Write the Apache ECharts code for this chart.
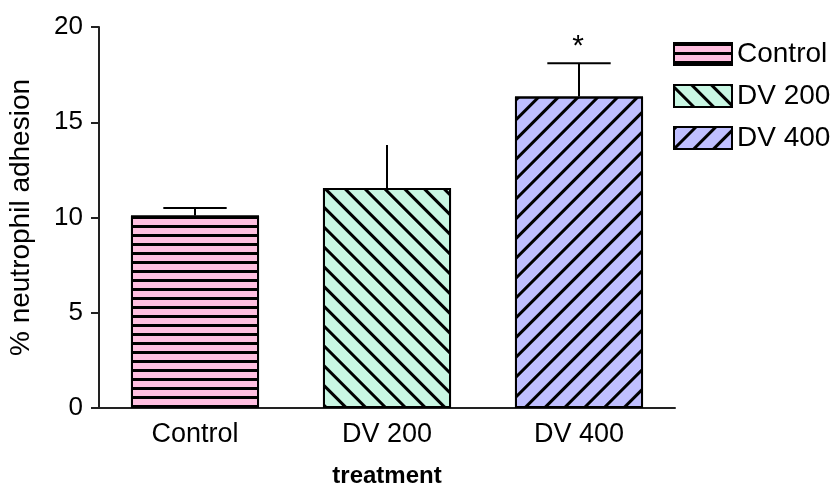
<!DOCTYPE html>
<html>
<head>
<meta charset="utf-8">
<script src="https://cdn.jsdelivr.net/npm/echarts@6/dist/echarts.min.js"></script>
<style>html,body{margin:0;padding:0;background:#fff;}#c{width:838px;height:489px;}</style>
</head>
<body>
<div id="c"></div>
<script>
var categories = ['Control', 'DV 200', 'DV 400'];
var seriesNames = ['Control', 'DV 200', 'DV 400'];
var means = [10.1, 11.55, 16.35];
var errors = [0.4, 2.25, 1.75];
var sigMarks = ['', '', '*'];
var yTicks = [0, 5, 10, 15, 20];

var FONT = 'Liberation Sans, Arial, sans-serif';
var fills = ['#ffbfe0', '#c9f7e3', '#bfbfff'];
var decals = [
  { symbol: 'rect', dashArrayX: [1, 0], dashArrayY: [2.2, 5.8], rotation: 0, color: '#000', symbolSize: 1 },
  { symbol: 'rect', dashArrayX: [1, 0], dashArrayY: [2.6, 10.8], rotation: Math.PI / 4, color: '#000', symbolSize: 1 },
  { symbol: 'rect', dashArrayX: [1, 0], dashArrayY: [2.6, 10.8], rotation: -Math.PI / 4, color: '#000', symbolSize: 1 }
];
var capFlags = [true, false, true];

var chart = echarts.init(document.getElementById('c'), null, { renderer: 'canvas' });

var barSeries = seriesNames.map(function (name, i) {
  var d = categories.map(function (c, j) { return j === i ? means[j] : '-'; });
  return {
    name: name,
    type: 'bar',
    data: d,
    barWidth: '66.7%',
    barGap: '-100%',
    itemStyle: { color: fills[i], borderColor: '#000', borderWidth: 2, decal: decals[i] },
    emphasis: { disabled: true },
    z: 2
  };
});

var errData = categories.map(function (c, j) { return [j, means[j], errors[j]]; });

var errSeries = {
  type: 'custom',
  name: 'err',
  data: errData,
  z: 5,
  renderItem: function (params, api) {
    var idx = api.value(0);
    var m = api.value(1);
    var e = api.value(2);
    var p0 = api.coord([idx, m]);
    var p1 = api.coord([idx, m + e]);
    var band = api.size([1, 0])[0];
    var half = band * 0.165;
    var children = [{
      type: 'line',
      shape: { x1: p0[0], y1: p0[1], x2: p1[0], y2: p1[1] },
      style: { stroke: '#000', lineWidth: 2 }
    }];
    if (capFlags[idx]) {
      children.push({
        type: 'line',
        shape: { x1: p1[0] - half, y1: p1[1], x2: p1[0] + half, y2: p1[1] },
        style: { stroke: '#000', lineWidth: 2 }
      });
    }
    if (sigMarks[idx]) {
      children.push({
        type: 'text',
        style: { text: sigMarks[idx], x: p1[0] - 1, y: p1[1] - 1, align: 'center', verticalAlign: 'bottom',
          fontSize: 30, fontFamily: FONT, fill: '#000' }
      });
    }
    return { type: 'group', children: children };
  }
};

chart.setOption({
  animation: false,
  backgroundColor: '#fff',
  grid: { left: 99, right: 163, top: 27, bottom: 81, containLabel: false, outerBoundsMode: 'none' },
  legend: {
    orient: 'vertical',
    left: 668,
    top: 35,
    icon: 'rect',
    itemWidth: 58,
    itemHeight: 22,
    itemGap: 14,
    data: seriesNames,
    textStyle: { fontSize: 28, fontFamily: FONT, color: '#000', padding: [0, 0, 0, 0] },
    selectedMode: false
  },
  xAxis: {
    type: 'category',
    data: categories,
    name: 'treatment',
    nameLocation: 'middle',
    nameGap: 56,
    nameTextStyle: { fontSize: 24, fontWeight: 'bold', fontFamily: FONT, color: '#000' },
    axisLine: { lineStyle: { color: '#222', width: 2 } },
    axisTick: { alignWithLabel: true, length: 11, lineStyle: { color: '#222', width: 2 } },
    axisLabel: { fontSize: 27, fontFamily: FONT, color: '#000', margin: 13 },
    splitLine: { show: false }
  },
  yAxis: {
    type: 'value',
    min: 0,
    max: 20,
    interval: 5,
    name: '% neutrophil adhesion',
    nameLocation: 'middle',
    nameGap: 64,
    nameTextStyle: { fontSize: 28, fontFamily: FONT, color: '#000' },
    axisLine: { show: true, lineStyle: { color: '#222', width: 2 } },
    axisTick: { show: true, length: 8, lineStyle: { color: '#222', width: 2 } },
    axisLabel: { fontSize: 26, fontFamily: FONT, color: '#000', margin: 16,
      formatter: function (v) { return yTicks.indexOf(v) >= 0 ? String(v) : ''; } },
    splitLine: { show: false }
  },
  series: barSeries.concat([errSeries])
});
</script>
</body>
</html>
